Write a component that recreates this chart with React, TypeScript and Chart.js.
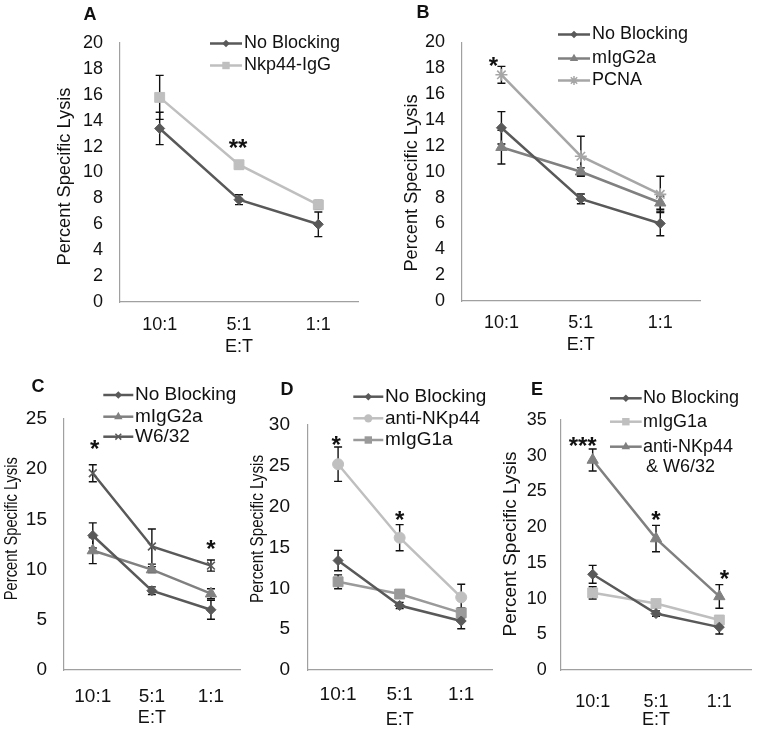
import React, { useEffect, useRef } from 'react';
import { Chart, registerables } from 'chart.js';

Chart.register(...registerables);

const FONT = '"Liberation Sans", Arial, Helvetica, sans-serif';
Chart.defaults.font.family = FONT;

// ---------- data ----------
const categories = ['10:1', '5:1', '1:1'];

const noBlocking = [13.4, 7.9, 6.0];
const noBlockingErr = [1.25, 0.38, 0.95];
const nkp44IgG = [15.8, 10.6, 7.5];
const nkp44IgGErr = [1.7, 0.3, 0.35];
const mIgG2a = [11.9, 10.0, 7.6];
const mIgG2aErr = [1.3, 0.3, 0.5];
const pcna = [17.5, 11.2, 8.25];
const pcnaErr = [0.65, 1.55, 1.4];
const w632 = [19.6, 12.3, 10.4];
const w632Err = [0.85, 1.75, 0.55];
const antiNKp44 = [25.2, 16.2, 8.9];
const antiNKp44Err = [2.1, 1.6, 1.6];
const mIgG1a = [10.8, 9.3, 7.0];
const mIgG1aErr = [0.85, 0.3, 0.6];
const antiNKp44W632 = [29.4, 18.4, 10.3];
const antiNKp44W632Err = [1.55, 1.85, 1.65];

// y-axis ranges
const yMaxA = 20, yStepA = 2;
const yMaxB = 20, yStepB = 2;
const yMaxC = 25, yStepC = 5;
const yMaxD = 30, yStepD = 5;
const yMaxE = 35, yStepE = 5;

// significance marks: category index, level (data units), text
const sigA = [{ index: 1, value: 12.3, text: '**' }];
const sigB = [{ index: 0, value: 18.6, text: '*' }];
const sigC = [{ index: 0, value: 22.6, text: '*' }, { index: 2, value: 12.6, text: '*' }];
const sigD = [{ index: 0, value: 28.2, text: '*' }, { index: 1, value: 19.1, text: '*' }];
const sigE = [{ index: 0, value: 32.2, text: '***' }, { index: 1, value: 21.8, text: '*' }, { index: 2, value: 13.5, text: '*' }];

const yTitle = 'Percent Specific Lysis';
const xTitle = 'E:T';

// ---------- styles ----------
const DARK = '#595959';
const MID = '#808080';
const MIDL = '#9a9a9a';
const PCNA_C = '#a6a6a6';
const LIGHT = '#bfbfbf';
const AXIS = '#a0a0a0';
const TEXT = '#111111';

type Series = { label: string[]; data: number[]; err: number[]; color: string; style: string; radius: number };
type Sig = { index: number; value: number; text: string };

const sNoBlock = (): Series => ({ label: ['No Blocking'], data: noBlocking, err: noBlockingErr, color: DARK, style: 'rectRot', radius: 5 });

type Panel = {
  letter: string;
  letterPos: [number, number];
  box: { x: number; y: number; w: number; h: number };
  area: { l: number; r: number; t: number; b: number };
  yMax: number;
  yStep: number;
  series: Series[];
  sig: Sig[];
  sigDx: number[];
  tickRight: number;
  tickSize: number;
  xTickY: number;
  xTitleY: number;
  xTitleSize: number;
  yTitlePos: [number, number];
  yTitleSize: number;
  yTitleLen: number;
  legend: { x1: number; x2: number; tx: number; rows: number[]; size: number; extraGap: number };
};

const panels: Panel[] = [
  {
    letter: 'A', letterPos: [90, 15],
    box: { x: 0, y: 0, w: 378, h: 368 },
    area: { l: 120, r: 358, t: 43, b: 302 },
    yMax: yMaxA, yStep: yStepA,
    series: [sNoBlock(), { label: ['Nkp44-IgG'], data: nkp44IgG, err: nkp44IgGErr, color: LIGHT, style: 'rect', radius: 7 }],
    sig: sigA, sigDx: [-1],
    tickRight: 103, tickSize: 18, xTickY: 325, xTitleY: 347, xTitleSize: 18,
    yTitlePos: [65, 176.5], yTitleSize: 18, yTitleLen: 178,
    legend: { x1: 210, x2: 242, tx: 244, rows: [43.5, 65.5], size: 18, extraGap: 20 },
  },
  {
    letter: 'B', letterPos: [423, 13],
    box: { x: 378, y: 0, w: 381, h: 368 },
    area: { l: 461.7, r: 700, t: 42.5, b: 301 },
    yMax: yMaxB, yStep: yStepB,
    series: [
      sNoBlock(),
      { label: ['mIgG2a'], data: mIgG2a, err: mIgG2aErr, color: MID, style: 'triangle', radius: 6.5 },
      { label: ['PCNA'], data: pcna, err: pcnaErr, color: PCNA_C, style: 'star', radius: 6 },
    ],
    sig: sigB, sigDx: [-8],
    tickRight: 445, tickSize: 18, xTickY: 323.5, xTitleY: 345, xTitleSize: 18,
    yTitlePos: [411.7, 183], yTitleSize: 18, yTitleLen: 177,
    legend: { x1: 558, x2: 590, tx: 592, rows: [34.5, 58.5, 80.5], size: 18, extraGap: 20 },
  },
  {
    letter: 'C', letterPos: [38, 387],
    box: { x: 0, y: 372, w: 248, h: 359 },
    area: { l: 63.25, r: 241.75, t: 419, b: 670 },
    yMax: yMaxC, yStep: yStepC,
    series: [
      sNoBlock(),
      { label: ['mIgG2a'], data: mIgG2a, err: mIgG2aErr, color: MID, style: 'triangle', radius: 6.5 },
      { label: ['W6/32'], data: w632, err: w632Err, color: DARK, style: 'crossRot', radius: 5.5 },
    ],
    sig: sigC, sigDx: [2, 0],
    tickRight: 47, tickSize: 19, xTickY: 696.7, xTitleY: 718.3, xTitleSize: 18,
    yTitlePos: [11.7, 528.7], yTitleSize: 18.5, yTitleLen: 143,
    legend: { x1: 103.3, x2: 133.3, tx: 135, rows: [395, 416.7, 436.7], size: 19, extraGap: 20 },
  },
  {
    letter: 'D', letterPos: [287, 390],
    box: { x: 248, y: 372, w: 252, h: 359 },
    area: { l: 307.3, r: 494, t: 425, b: 670 },
    yMax: yMaxD, yStep: yStepD,
    series: [
      sNoBlock(),
      { label: ['anti-NKp44'], data: antiNKp44, err: antiNKp44Err, color: LIGHT, style: 'circle', radius: 5.5 },
      { label: ['mIgG1a'], data: mIgG1a, err: mIgG1aErr, color: MIDL, style: 'rect', radius: 7 },
    ],
    sig: sigD, sigDx: [-2, 0],
    tickRight: 290, tickSize: 19, xTickY: 695, xTitleY: 720, xTitleSize: 18,
    yTitlePos: [257.5, 529], yTitleSize: 18.5, yTitleLen: 148,
    legend: { x1: 353.3, x2: 383.3, tx: 385, rows: [396.7, 418.3, 440], size: 19, extraGap: 20 },
  },
  {
    letter: 'E', letterPos: [537, 390],
    box: { x: 500, y: 372, w: 259, h: 359 },
    area: { l: 561, r: 754, t: 420, b: 670 },
    yMax: yMaxE, yStep: yStepE,
    series: [
      sNoBlock(),
      { label: ['mIgG1a'], data: mIgG1a, err: mIgG1aErr, color: LIGHT, style: 'rect', radius: 7 },
      { label: ['anti-NKp44', '& W6/32'], data: antiNKp44W632, err: antiNKp44W632Err, color: MID, style: 'triangle', radius: 6.5 },
    ],
    sig: sigE, sigDx: [-10, 0, 5],
    tickRight: 546.7, tickSize: 18, xTickY: 702, xTitleY: 720, xTitleSize: 18,
    yTitlePos: [510.7, 544], yTitleSize: 18.5, yTitleLen: 185,
    legend: { x1: 610, x2: 641.7, tx: 643, rows: [398.3, 421.7, 446.7], size: 18, extraGap: 20.5 },
  },
];

// ---------- drawing helpers ----------
function drawMarker(ctx: CanvasRenderingContext2D, style: string, x: number, y: number, r: number, color: string) {
  ctx.save();
  ctx.fillStyle = color;
  ctx.strokeStyle = color;
  ctx.lineWidth = 1.5;
  ctx.beginPath();
  if (style === 'rectRot') {
    ctx.moveTo(x, y - r); ctx.lineTo(x + r, y); ctx.lineTo(x, y + r); ctx.lineTo(x - r, y); ctx.closePath(); ctx.fill();
  } else if (style === 'rect') {
    const s = r * Math.SQRT1_2;
    ctx.rect(x - s, y - s, 2 * s, 2 * s); ctx.fill();
  } else if (style === 'triangle') {
    ctx.moveTo(x, y - r); ctx.lineTo(x + r * 0.866, y + r * 0.5); ctx.lineTo(x - r * 0.866, y + r * 0.5); ctx.closePath(); ctx.fill();
  } else if (style === 'circle') {
    ctx.arc(x, y, r, 0, Math.PI * 2); ctx.fill();
  } else if (style === 'crossRot' || style === 'star') {
    const d = r * Math.SQRT1_2;
    ctx.moveTo(x - d, y - d); ctx.lineTo(x + d, y + d);
    ctx.moveTo(x + d, y - d); ctx.lineTo(x - d, y + d);
    if (style === 'star') { ctx.moveTo(x, y - r); ctx.lineTo(x, y + r); ctx.moveTo(x - r, y); ctx.lineTo(x + r, y); }
    ctx.stroke();
  }
  ctx.restore();
}

function makePlugin(p: Panel) {
  return {
    id: 'panelDecor' + p.letter,
    beforeDatasetsDraw(chart: any) {
      const ctx: CanvasRenderingContext2D = chart.ctx;
      const ys = chart.scales.y;
      ctx.save();
      ctx.strokeStyle = '#111';
      ctx.lineWidth = 1.4;
      p.series.forEach((s, i) => {
        const meta = chart.getDatasetMeta(i);
        s.data.forEach((v, j) => {
          const x = meta.data[j].x;
          const y1 = ys.getPixelForValue(v + s.err[j]);
          const y2 = ys.getPixelForValue(v - s.err[j]);
          ctx.beginPath();
          ctx.moveTo(x, y1); ctx.lineTo(x, y2);
          ctx.moveTo(x - 4, y1); ctx.lineTo(x + 4, y1);
          ctx.moveTo(x - 4, y2); ctx.lineTo(x + 4, y2);
          ctx.stroke();
        });
      });
      ctx.restore();
    },
    afterDraw(chart: any) {
      const ctx: CanvasRenderingContext2D = chart.ctx;
      const ox = p.box.x, oy = p.box.y;
      const xs = chart.scales.x, ys = chart.scales.y;
      ctx.save();
      // panel letter
      ctx.fillStyle = TEXT;
      ctx.font = `bold 18px ${FONT}`;
      ctx.textAlign = 'center';
      ctx.textBaseline = 'middle';
      ctx.fillText(p.letter, p.letterPos[0] - ox, p.letterPos[1] - oy);
      // y title (rotated, fitted to the reference length)
      ctx.save();
      ctx.translate(p.yTitlePos[0] - ox, p.yTitlePos[1] - oy);
      ctx.rotate(-Math.PI / 2);
      ctx.font = `${p.yTitleSize}px ${FONT}`;
      const natural = ctx.measureText(yTitle).width;
      ctx.scale(p.yTitleLen / natural, 1);
      ctx.fillText(yTitle, 0, 0);
      ctx.restore();
      // significance stars
      const starSize = 24;
      ctx.font = `bold ${starSize}px ${FONT}`;
      ctx.textBaseline = 'alphabetic';
      p.sig.forEach((s, k) => {
        const x = xs.getPixelForValue(s.index) + (p.sigDx[k] || 0);
        const y = ys.getPixelForValue(s.value);
        ctx.fillText(s.text, x, y + starSize * 0.57);
      });
      // legend
      const L = p.legend;
      ctx.textAlign = 'left';
      ctx.textBaseline = 'middle';
      ctx.font = `${L.size}px ${FONT}`;
      p.series.forEach((s, i) => {
        const y = L.rows[i] - oy;
        ctx.strokeStyle = s.color;
        ctx.lineWidth = 2.5;
        ctx.beginPath();
        ctx.moveTo(L.x1 - ox, y); ctx.lineTo(L.x2 - ox, y);
        ctx.stroke();
        drawMarker(ctx, s.style, (L.x1 + L.x2) / 2 - ox, y, s.radius * 0.75, s.color);
        ctx.fillStyle = TEXT;
        s.label.forEach((t, li) => {
          ctx.fillText(t, L.tx - ox + (li > 0 ? 3 : 0), y + li * L.extraGap);
        });
      });
      ctx.restore();
    },
  };
}

function buildConfig(p: Panel): any {
  const { box, area } = p;
  const xBottom = p.xTitleY + 0.6 * p.xTitleSize;
  return {
    type: 'line',
    data: {
      labels: categories,
      datasets: p.series.map((s) => ({
        label: s.label.join(' '),
        data: s.data,
        borderColor: s.color,
        backgroundColor: s.color,
        borderWidth: 2.5,
        pointStyle: s.style,
        pointRadius: s.radius,
        pointBorderWidth: s.style === 'crossRot' || s.style === 'star' ? 1.6 : 1,
        pointBackgroundColor: s.color,
        pointBorderColor: s.color,
        tension: 0,
      })),
    },
    options: {
      animation: false,
      responsive: false,
      maintainAspectRatio: false,
      devicePixelRatio: 1,
      events: [],
      layout: {
        padding: {
          left: 0,
          top: area.t - box.y,
          right: box.x + box.w - area.r,
          bottom: box.y + box.h - xBottom,
        },
      },
      plugins: { legend: { display: false }, tooltip: { enabled: false }, title: { display: false } },
      scales: {
        x: {
          type: 'category',
          offset: true,
          grid: { display: false, drawTicks: false },
          border: { display: true, color: AXIS, width: 1.2 },
          ticks: {
            color: TEXT,
            font: { size: p.tickSize, family: FONT, lineHeight: 1.2 },
            padding: p.xTickY - area.b - 0.6 * p.tickSize,
            maxRotation: 0,
            minRotation: 0,
            autoSkip: false,
          },
          title: { display: true, text: xTitle, color: TEXT, font: { size: p.xTitleSize, family: FONT, lineHeight: 1.2 }, padding: 0 },
          afterFit: (s: any) => { s.height = xBottom - area.b; },
        },
        y: {
          type: 'linear',
          min: 0,
          max: p.yMax,
          grid: { display: false, drawTicks: false },
          border: { display: true, color: AXIS, width: 1.2 },
          ticks: {
            stepSize: p.yStep,
            color: TEXT,
            font: { size: p.tickSize, family: FONT },
            padding: area.l - p.tickRight,
          },
          afterFit: (s: any) => { s.width = area.l - box.x; },
        },
      },
    },
    plugins: [makePlugin(p)],
  };
}

function PanelChart({ p }: { p: Panel }) {
  const ref = useRef<HTMLCanvasElement>(null);
  useEffect(() => {
    const chart = new Chart(ref.current as HTMLCanvasElement, buildConfig(p));
    return () => chart.destroy();
  }, [p]);
  return (
    <canvas
      ref={ref}
      width={p.box.w}
      height={p.box.h}
      style={{ position: 'absolute', left: p.box.x, top: p.box.y, width: p.box.w, height: p.box.h }}
    />
  );
}

export default function App() {
  return (
    <div style={{ position: 'absolute', left: 0, top: 0, width: 759, height: 731, background: '#ffffff', overflow: 'hidden' }}>
      {panels.map((p) => (
        <PanelChart key={p.letter} p={p} />
      ))}
    </div>
  );
}
